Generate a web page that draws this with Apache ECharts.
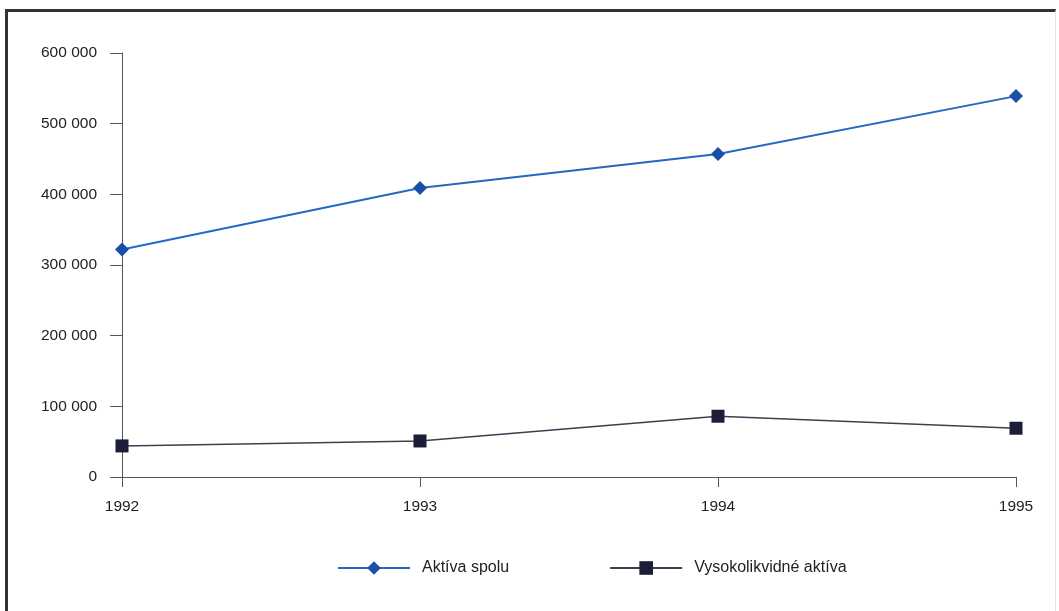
<!DOCTYPE html>
<html>
<head>
<meta charset="utf-8">
<script src="https://cdn.jsdelivr.net/npm/echarts@6/dist/echarts.min.js"></script>
<style>
  html, body { margin: 0; padding: 0; background: #fff; }
  #frame { position: absolute; left: 5px; top: 9px; width: 1051px; height: 602px;
           border-left: 3px solid #333; border-top: 3px solid #333; border-right: 1px solid #e4e4e4; box-sizing: border-box; }
  #chart { position: absolute; left: 0; top: 0; width: 1059px; height: 611px; }
</style>
</head>
<body>
<div id="frame"></div>
<div id="chart"></div>
<script>
// Years on the horizontal axis
const years = ['1992', '1993', '1994', '1995'];
// Total assets
const aktivaSpolu = [322000, 409000, 457000, 539000];
// Highly liquid assets
const vysokolikvidne = [44000, 51000, 86000, 69000];
const seriesNames = ['Aktíva spolu', 'Vysokolikvidné aktíva'];

// thousands separated by a space: 600 000
const fmt = v => String(v).replace(/\B(?=(\d{3})+(?!\d))/g, ' ');

const chart = echarts.init(document.getElementById('chart'), null, { renderer: 'canvas' });
chart.setOption({
  animation: false,
  textStyle: { fontFamily: 'Liberation Sans, Arial, sans-serif' },
  grid: { left: 122, right: 43, top: 53, bottom: 134, containLabel: false },
  legend: {
    top: 555,
    left: 332,
    itemGap: 100,
    itemWidth: 72,
    itemHeight: 17,
    textStyle: { fontSize: 16, color: '#222', padding: [0, 0, 0, 7] },
    data: seriesNames
  },
  xAxis: {
    type: 'category',
    data: years,
    boundaryGap: false,
    axisLine: { lineStyle: { color: '#555', width: 1 } },
    axisTick: { show: true, length: 10, alignWithLabel: true, lineStyle: { color: '#555' } },
    axisLabel: { fontSize: 15.5, color: '#222', margin: 22 },
    splitLine: { show: false }
  },
  yAxis: {
    type: 'value',
    min: 0, max: 600000, interval: 100000,
    axisLine: { show: true, lineStyle: { color: '#555', width: 1 } },
    axisTick: { show: true, inside: false, length: 12, lineStyle: { color: '#555' } },
    axisLabel: { fontSize: 15.5, color: '#222', margin: 25, formatter: fmt },
    splitLine: { show: false }
  },
  series: [
    {
      name: seriesNames[0],
      type: 'line',
      data: aktivaSpolu,
      symbol: 'diamond',
      symbolSize: 14,
      lineStyle: { color: '#2468c4', width: 2 },
      itemStyle: { color: '#1a4fa8' },
      z: 3
    },
    {
      name: seriesNames[1],
      type: 'line',
      data: vysokolikvidne,
      symbol: 'rect',
      symbolSize: 13,
      lineStyle: { color: '#3a4050', width: 1.5 },
      itemStyle: { color: '#1b1e36' },
      z: 2
    }
  ]
});
</script>
</body>
</html>
